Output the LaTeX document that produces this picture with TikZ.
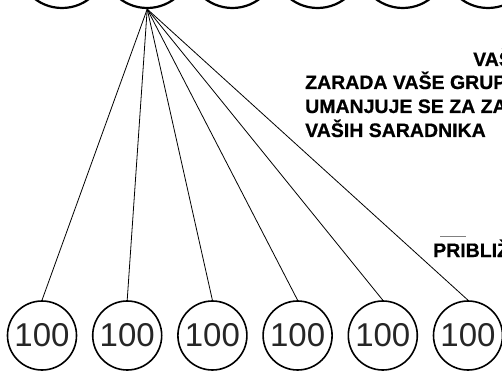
\documentclass[tikz,border=0pt]{standalone}
\usepackage{fontspec}
\setmainfont{Liberation Sans}
\newfontfamily\headfont[FakeBold=0.6]{Liberation Sans Bold}
\begin{document}
\begin{tikzpicture}[x=1pt,y=-1pt,
  topc/.style={circle, draw, line width=2.2pt, minimum size=90pt, inner sep=0pt},
  botc/.style={circle, draw, line width=1.6pt, minimum size=69pt, inner sep=0pt,
    font=\fontsize{33}{33}\selectfont, text=black!85},
  link/.style={line width=0.8pt},
  hd/.style={anchor=base west, inner sep=0pt, font=\headfont\fontsize{19.5}{19.5}\selectfont},
  rule/.style={line width=0.6pt, draw=black!50}]
\useasboundingbox (0,0) rectangle (502,371);
\clip (0,0) rectangle (502,371);
\foreach \i in {1,...,6} {
  \node[topc] (t\i) at ({62+85.2*(\i-1)}, -37) {};
  \node[botc] (b\i) at ({42+85.2*(\i-1)}, 335.5) {100};
}
\foreach \i in {1,...,6} \draw[link] (t2.south) -- (b\i.north);
\node[hd] (l1) at (473,66) {VAŠ};
\node[hd] (l2) at (305,89) {ZARADA VAŠE GRUP};
\node[hd] (l3) at (305,113) {UMANJUJE SE ZA ZA};
\node[hd] (l4) at (305,137) {VAŠIH SARADNIKA};
\coordinate (r1) at (440,236);
\coordinate (r2) at (466,236);
\draw[rule] (r1) -- (r2);
\node[hd] (l5) at (433,257) {PRIBLIŽ};
\end{tikzpicture}
\end{document}
